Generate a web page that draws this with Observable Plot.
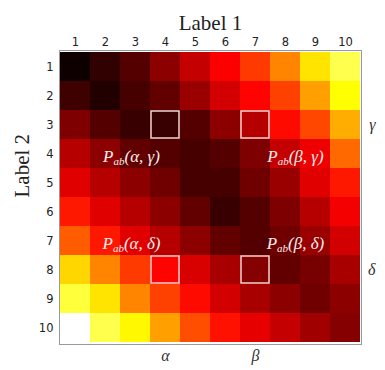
<!DOCTYPE html>
<html>
<head>
<meta charset="utf-8">
<script src="https://cdn.jsdelivr.net/npm/d3@7"></script>
<script src="https://cdn.jsdelivr.net/npm/@observablehq/plot@0.6"></script>
<style>
  body { margin: 0; background: #fff; }
  .pab text { font-style: italic; }
</style>
</head>
<body>
<div id="chart"></div>
<script>
// Tick labels
const label1Ticks = [1, 2, 3, 4, 5, 6, 7, 8, 9, 10];
const label2Ticks = [1, 2, 3, 4, 5, 6, 7, 8, 9, 10];

// Heatmap values per row of Label 2 (columns = Label 1 ticks 1..10)
const row1  = [0.02, 0.07, 0.12, 0.20, 0.28, 0.36, 0.45, 0.56, 0.70, 0.82];
const row2  = [0.09, 0.05, 0.10, 0.14, 0.22, 0.30, 0.37, 0.46, 0.60, 0.74];
const row3  = [0.18, 0.12, 0.08, 0.08, 0.12, 0.20, 0.26, 0.38, 0.47, 0.62];
const row4  = [0.26, 0.20, 0.14, 0.12, 0.10, 0.12, 0.18, 0.28, 0.34, 0.52];
const row5  = [0.32, 0.26, 0.20, 0.16, 0.10, 0.10, 0.16, 0.22, 0.32, 0.40];
const row6  = [0.40, 0.32, 0.26, 0.20, 0.14, 0.08, 0.12, 0.18, 0.26, 0.35];
const row7  = [0.50, 0.40, 0.32, 0.26, 0.20, 0.14, 0.12, 0.16, 0.22, 0.30];
const row8  = [0.68, 0.56, 0.45, 0.37, 0.31, 0.24, 0.19, 0.14, 0.17, 0.24];
const row9  = [0.80, 0.70, 0.56, 0.46, 0.38, 0.30, 0.24, 0.20, 0.16, 0.20];
const row10 = [1.00, 0.82, 0.73, 0.60, 0.48, 0.39, 0.33, 0.28, 0.23, 0.19];
const rows = [row1, row2, row3, row4, row5, row6, row7, row8, row9, row10];

// Highlighted cells and annotations
const boxCols = [4, 7, 4, 7];
const boxRows = [3, 3, 8, 8];
const annAlphaLabels = ["P|ab|(α, γ)", "P|ab|(α, δ)"];
const annBetaLabels = ["P|ab|(β, γ)", "P|ab|(β, δ)"];
const annAlphaCol = 3;
const annBetaCol = 8;
const annRows = [4, 7];
const bottomSymbols = ["α", "β"];
const bottomCols = [4, 7];
const sideSymbols = ["γ", "δ"];
const sideRows = [3, 8];

const cells = [];
rows.forEach((r, i) => r.forEach((v, j) => cells.push({x: label1Ticks[j], y: label2Ticks[i], v})));
const boxes = boxCols.map((c, i) => ({x: c, y: boxRows[i]}));
const annA = annAlphaLabels.map((t, i) => ({t, x: annAlphaCol, y: annRows[i]}));
const annB = annBetaLabels.map((t, i) => ({t, x: annBetaCol, y: annRows[i]}));

function hot(t) {
  const r = Math.min(1, t / 0.365);
  const g = Math.max(0, Math.min(1, (t - 0.365) / 0.375));
  const b = Math.max(0, Math.min(1, (t - 0.74) / 0.26));
  return `rgb(${Math.round(r*255)},${Math.round(g*255)},${Math.round(b*255)})`;
}

const serif = "Liberation Serif, DejaVu Serif, serif";
const annStyle = {x: "x", y: "y", text: "t", dy: 3, fill: "#f6eeee", fontSize: 17, fontFamily: serif, className: "pab"};

const plot = Plot.plot({
  width: 385,
  height: 370,
  marginLeft: 59,
  marginRight: 24,
  marginTop: 50,
  marginBottom: 26,
  style: {fontFamily: "DejaVu Sans, sans-serif", fontSize: "11px", background: "#fff"},
  x: {type: "band", domain: label1Ticks, padding: 0, axis: null},
  y: {type: "band", domain: label2Ticks, padding: 0, axis: null},
  color: {type: "linear", domain: [0, 1], interpolate: hot},
  marks: [
    Plot.cell(cells, {x: "x", y: "y", fill: "v"}),
    Plot.frame({stroke: "#999", strokeWidth: 1}),
    Plot.axisX({anchor: "top", tickSize: 0, tickPadding: 5, label: null, fontSize: 11.5, fill: "#222"}),
    Plot.axisY({anchor: "left", tickSize: 0, tickPadding: 6, label: null, fontSize: 11.5, fill: "#222"}),
    Plot.cell(boxes, {x: "x", y: "y", fill: "none", stroke: "#f3d2d2", strokeWidth: 1.5, inset: 1}),
    Plot.text(annA, {...annStyle, dx: -4}),
    Plot.text(annB, {...annStyle, dx: 10}),
    Plot.text(bottomSymbols, {x: (d, i) => bottomCols[i], frameAnchor: "bottom", dy: 16, text: d => d, fontSize: 16, fontStyle: "italic", fontFamily: serif, fill: "#333"}),
    Plot.text(sideSymbols, {y: (d, i) => sideRows[i], frameAnchor: "right", dx: 14, text: d => d, fontSize: 16, fontStyle: "italic", fontFamily: serif, fill: "#333"}),
    Plot.text(["Label 1"], {frameAnchor: "top", dy: -35, text: d => d, fontSize: 21, fontFamily: serif, fill: "#222"}),
    Plot.text(["Label 2"], {frameAnchor: "left", dx: -37, rotate: -90, text: d => d, fontSize: 21, fontFamily: serif, fill: "#222"})
  ]
});

// turn "P|ab|(...)" into P with subscript ab
d3.select(plot).selectAll("g.pab text").each(function () {
  const parts = this.textContent.split("|");
  const sel = d3.select(this);
  sel.text(null);
  sel.append("tspan").text(parts[0]);
  sel.append("tspan").attr("font-size", 11).attr("dy", 3).text(parts[1]);
  sel.append("tspan").attr("dy", -3).text(parts[2]);
});

document.getElementById("chart").appendChild(plot);
</script>
</body>
</html>
